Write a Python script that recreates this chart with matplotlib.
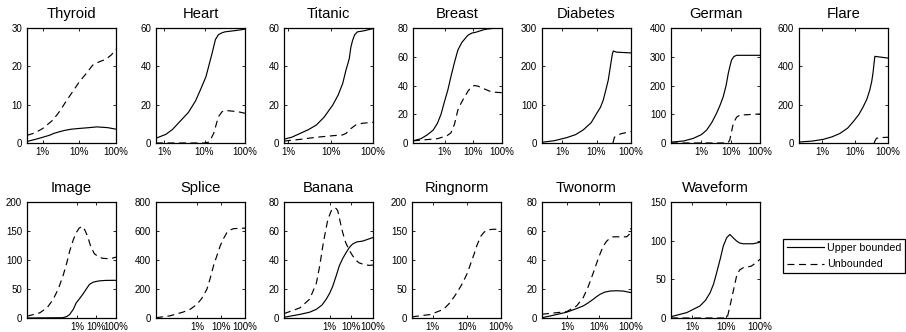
import matplotlib
matplotlib.use("Agg")
import matplotlib.pyplot as plt
from matplotlib.lines import Line2D

plt.rcParams['font.family'] = ['Liberation Sans', 'DejaVu Sans']
plt.rcParams['lines.scale_dashes'] = False

# ---------------- data (x in percent) ----------------
names = ["Thyroid", "Heart", "Titanic", "Breast", "Diabetes", "German", "Flare",
         "Image", "Splice", "Banana", "Ringnorm", "Twonorm", "Waveform"]
xmins = [0.37, 0.63, 0.79, 0.079, 0.263, 0.093, 0.2,
         0.00275, 0.02, 0.0079, 0.25, 0.166, 0.24]
ymaxs = [30, 60, 60, 80, 300, 400, 600, 200, 800, 80, 200, 80, 150]
ysteps = [10, 20, 20, 20, 100, 100, 200, 50, 200, 20, 50, 20, 50]

thyroid_ub_x = [0.37, 0.6, 1, 1.5, 2, 3, 4, 6, 10, 18, 30, 60, 100]
thyroid_ub_y = [0.4, 0.9, 1.5, 2.0, 2.5, 3.0, 3.3, 3.6, 3.8, 4.0, 4.2, 4.0, 3.6]
thyroid_un_x = [0.37, 0.6, 1, 1.9, 3, 4.4, 7, 10, 15, 23, 35, 52, 75, 100]
thyroid_un_y = [2.0, 2.6, 3.8, 6, 8.5, 11, 13.8, 16, 18, 20.3, 21.2, 21.8, 23, 24.5]

heart_ub_x = [0.63, 1.1, 1.6, 2.4, 4, 6, 8, 10.8, 13, 15.3, 18.6, 22, 27, 32, 60, 100]
heart_ub_y = [2.5, 4.5, 7, 11, 16, 22, 28, 34.5, 41, 46.7, 54, 56.5, 57.5, 58, 58.7, 59.4]
heart_un_x = [0.63, 10, 13, 16.8, 22, 27, 32, 45, 68, 100]
heart_un_y = [0, 0, 0.5, 5, 13.7, 16.3, 17, 16.7, 16.3, 15.5]

titanic_ub_x = [0.79, 1.2, 1.9, 3, 4.6, 7, 11.2, 15, 19.2, 23, 27.5, 30, 33, 37, 43, 60, 100]
titanic_ub_y = [2, 3, 5, 7, 9.4, 13.5, 19.8, 25, 31, 38, 44, 50, 53.6, 56.5, 58, 58.5, 59.7]
titanic_un_x = [0.79, 1.9, 4.6, 11.2, 19, 23, 30, 39, 56, 100]
titanic_un_y = [1, 1.9, 3, 3.8, 4.2, 5, 7.5, 9.4, 10.3, 10.8]

breast_ub_x = [0.079, 0.15, 0.245, 0.4, 0.56, 0.75, 0.95, 1.3, 1.65, 2.2, 2.9, 4, 6.5, 9, 12, 25, 50, 100]
breast_ub_y = [1.5, 3, 5.6, 9, 13.7, 20, 27.6, 37, 46, 56, 64.7, 70, 75, 76.5, 77, 79, 79.8, 80]
breast_un_x = [0.079, 0.56, 1.2, 1.65, 2.2, 2.9, 3.8, 4.95, 6.5, 8.5, 11, 14.7, 25, 43, 100]
breast_un_y = [1.5, 3, 5, 7, 13, 23, 28, 32, 36, 39, 40, 39.5, 37.5, 35.5, 35]

diabetes_ub_x = [0.263, 0.6, 1.37, 2.5, 4.1, 7, 10.1, 13, 15.7, 18.5, 21.9, 24.5, 27.5, 29, 30.7, 38, 100]
diabetes_ub_y = [2, 6, 14, 22, 34, 53, 77, 93, 112, 137, 164, 192, 221, 233, 240, 237, 235]
diabetes_un_x = [30, 33, 50, 100]
diabetes_un_y = [0, 15, 24, 30]

german_ub_x = [0.093, 0.25, 0.53, 1, 1.53, 2.3, 3.3, 4.3, 5.6, 7, 8.3, 9.5, 10.8, 13, 16, 100]
german_ub_y = [3, 7, 16, 29, 45, 72, 103, 130, 161, 200, 242, 268, 289, 301, 305, 305]
german_un_x = [0.093, 8, 9.3, 12.3, 16, 20.7, 100]
german_un_y = [0, 0, 10, 68, 90, 97, 101]

flare_ub_x = [0.2, 0.5, 1.09, 2, 3.5, 6, 8.8, 13, 17.7, 23, 28, 32, 35, 38, 40, 100]
flare_ub_y = [5, 10, 19, 32, 50, 78, 111, 148, 189, 230, 276, 320, 364, 420, 452, 443]
flare_un_x = [38, 40, 45, 60, 100]
flare_un_y = [0, 10, 25, 28, 30]

image_ub_x = [0.00275, 0.19, 0.3, 0.42, 0.65, 0.91, 1.4, 2, 3, 4.4, 7, 13.8, 30, 100]
image_ub_y = [0, 0.5, 2.5, 6, 15, 26, 34, 41, 50, 58, 62, 64, 64.8, 65]
image_un_x = [0.00275, 0.0126, 0.03, 0.06, 0.11, 0.19, 0.3, 0.42, 0.65, 0.91, 1.3, 1.87, 2.5, 3.5, 5, 7.7, 12, 20, 50, 100]
image_un_y = [3, 9, 18, 32, 50, 72, 95, 115, 135, 147, 155, 158, 152, 141, 124, 111, 106, 103, 102, 105]

splice_un_x = [0.02, 0.076, 0.27, 0.55, 1, 1.6, 2.6, 3.6, 4.9, 6.8, 9.3, 13, 17.6, 25, 33, 100]
splice_un_y = [2, 15, 41, 62, 94, 135, 198, 275, 359, 430, 497, 550, 588, 608, 616, 620]

banana_ub_x = [0.0079, 0.043, 0.12, 0.245, 0.45, 0.7, 1.0, 1.4, 2.0, 2.8, 4, 5.7, 8, 11.4, 18, 32.6, 100]
banana_ub_y = [0.5, 2.5, 4, 6, 9, 13, 17, 22, 29, 36, 41, 45, 48.5, 51, 52.5, 53, 55.5]
banana_un_x = [0.0079, 0.043, 0.12, 0.245, 0.35, 0.49, 0.65, 0.83, 1.2, 1.66, 2.0, 2.37, 3, 4, 5.5, 7.9, 11.4, 16, 23, 40, 66, 100]
banana_un_y = [3, 7, 13, 24, 36, 50, 60, 68, 74, 76, 75.5, 74, 67, 59, 52, 47, 43, 40, 38, 36.8, 36.3, 36.5]

ringnorm_un_x = [0.25, 0.86, 2.1, 3.3, 5.2, 7.5, 10.5, 13, 16.3, 20, 25.7, 32, 40.7, 60, 100]
ringnorm_un_y = [2, 6, 15, 27, 44, 60, 78, 94, 110, 126, 141, 148, 152, 153, 153]

twonorm_ub_x = [0.166, 0.3, 0.98, 2, 3.2, 4.5, 6.6, 8.5, 10.7, 15, 22, 35, 57, 100]
twonorm_ub_y = [0.2, 1.4, 4, 6.5, 8.3, 10.3, 12.9, 14.8, 16.3, 17.8, 18.6, 18.8, 18.6, 17.5]
twonorm_un_x = [0.166, 0.98, 2, 3.2, 4.5, 6.6, 8.5, 10.7, 13.5, 17.4, 22, 28, 45, 74, 90, 100]
twonorm_un_y = [2.6, 4.4, 8.3, 14, 21, 31, 38, 44, 49.5, 53, 55, 56, 56, 56, 58, 62]

waveform_ub_x = [0.24, 0.7, 1.7, 2.5, 3.4, 4.3, 5.3, 6.8, 8.3, 10.5, 13, 16, 20.4, 25, 32, 63, 100]
waveform_ub_y = [1.7, 7, 15.5, 23, 32.7, 44, 58.6, 77, 93, 104, 108, 104, 99.6, 97, 96, 96, 98]
waveform_un_x = [0.24, 10.8, 13, 16, 20.4, 25, 32, 55, 80, 100]
waveform_un_y = [0, 0, 15, 33, 54, 62, 65, 67, 72, 76]

ub_series = [(thyroid_ub_x, thyroid_ub_y), (heart_ub_x, heart_ub_y),
             (titanic_ub_x, titanic_ub_y), (breast_ub_x, breast_ub_y),
             (diabetes_ub_x, diabetes_ub_y), (german_ub_x, german_ub_y),
             (flare_ub_x, flare_ub_y), (image_ub_x, image_ub_y), None,
             (banana_ub_x, banana_ub_y), None, (twonorm_ub_x, twonorm_ub_y),
             (waveform_ub_x, waveform_ub_y)]
un_series = [(thyroid_un_x, thyroid_un_y), (heart_un_x, heart_un_y),
             (titanic_un_x, titanic_un_y), (breast_un_x, breast_un_y),
             (diabetes_un_x, diabetes_un_y), (german_un_x, german_un_y),
             (flare_un_x, flare_un_y), (image_un_x, image_un_y),
             (splice_un_x, splice_un_y), (banana_un_x, banana_un_y),
             (ringnorm_un_x, ringnorm_un_y), (twonorm_un_x, twonorm_un_y),
             (waveform_un_x, waveform_un_y)]
xtick_vals = [1, 10, 100]
xtick_labels = ["1%", "10%", "100%"]
legend_labels = ["Upper bounded", "Unbounded"]

# ---------------- layout ----------------
W, H = 906, 332
fig = plt.figure(figsize=(W / 100, H / 100), dpi=100)
lefts_r1 = [27, 156, 284, 413, 542, 671, 799]
lefts_r2 = [27, 156, 284, 412, 542, 671]
boxes = [(l, 28, 143) for l in lefts_r1] + [(l, 202, 318) for l in lefts_r2]
AW = 89

DASH = (0, (5.0, 3.3))
LW = 0.85

for i, name in enumerate(names):
    l, top, bot = boxes[i]
    ax = fig.add_axes([l / W, (H - bot) / H, AW / W, (bot - top) / H])
    ax.set_xscale('log')
    if ub_series[i] is not None:
        ax.plot(ub_series[i][0], ub_series[i][1], color='black', lw=LW,
                solid_capstyle='butt', solid_joinstyle='round')
    if un_series[i] is not None:
        ax.plot(un_series[i][0], un_series[i][1], color='black', lw=LW,
                linestyle=DASH)
    ax.set_xlim(xmins[i], 100)
    ax.set_ylim(0, ymaxs[i])
    ax.set_xticks(xtick_vals)
    ax.set_xticklabels(xtick_labels)
    ax.minorticks_off()
    ax.set_yticks(list(range(0, ymaxs[i] + 1, ysteps[i])))
    ax.tick_params(direction='in', length=2.5, width=0.6, labelsize=7,
                   top=True, right=True, pad=3)
    ax.tick_params(axis='y', pad=3.5)
    for s in ax.spines.values():
        s.set_linewidth(0.9)
    ax.set_title(name, fontsize=10.6, pad=7.5)

handles = [Line2D([], [], color='black', lw=LW),
           Line2D([], [], color='black', lw=LW, linestyle=DASH)]
leg = fig.legend(handles, legend_labels, loc='center',
                 bbox_to_anchor=(844 / W, 1 - 256 / H), fontsize=7.7,
                 frameon=True, fancybox=False, edgecolor='black',
                 framealpha=1, handlelength=3.5, handletextpad=0.25,
                 borderpad=0.35, labelspacing=0.65, borderaxespad=0)
leg.get_frame().set_linewidth(0.9)

fig.savefig("out.png", dpi=100)
